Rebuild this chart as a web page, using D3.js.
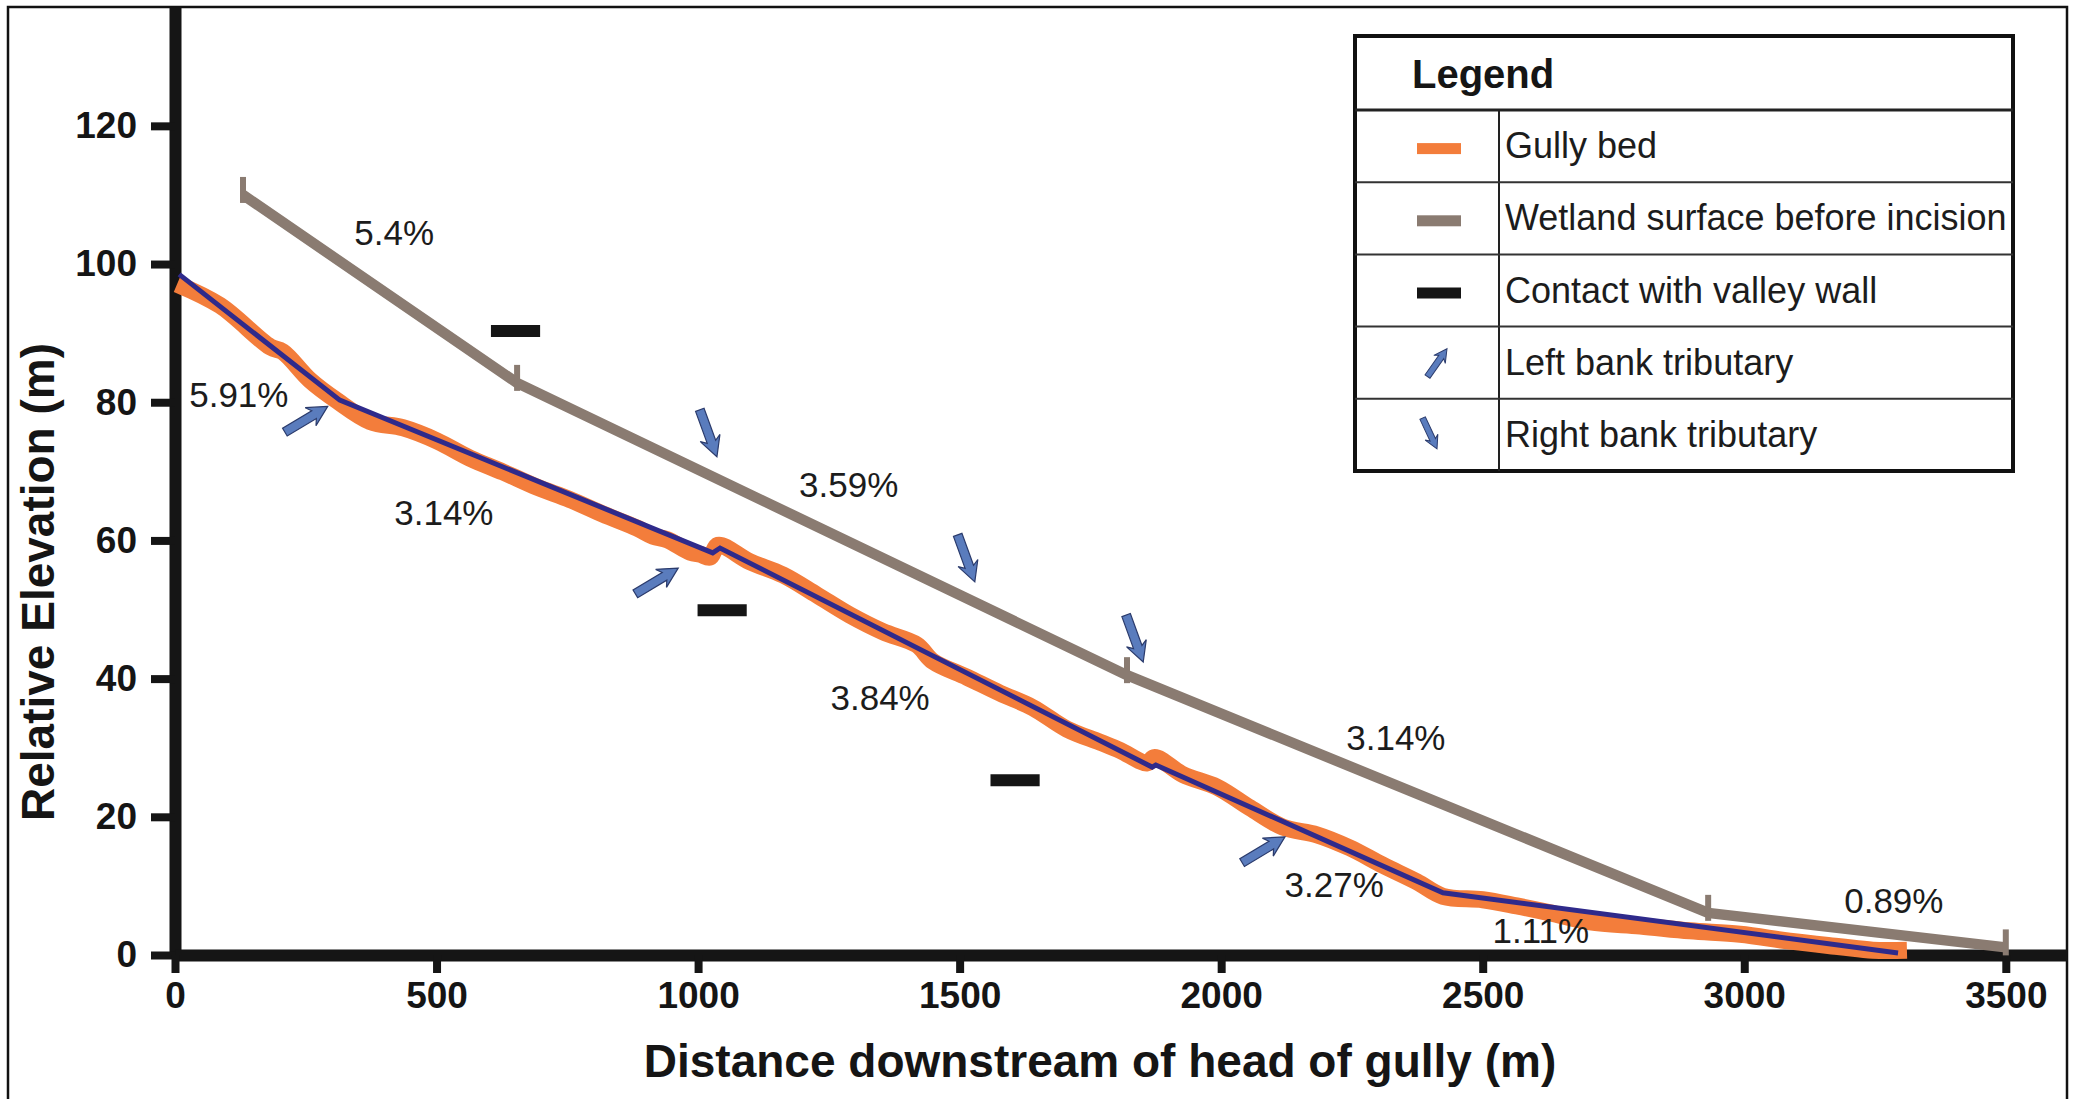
<!DOCTYPE html>
<html>
<head>
<meta charset="utf-8">
<script src="https://cdn.jsdelivr.net/npm/d3@7"></script>
<style>
html, body { margin: 0; padding: 0; background: #fff; }
svg { display: block; }
text { font-family: "Liberation Sans", Arial, Helvetica, sans-serif; }
</style>
</head>
<body>
<svg id="chart" width="2076" height="1099"></svg>
<script>
// ---------------- data ----------------
const bedDistance = [4, 86, 182, 206, 258, 310, 373, 436, 501, 564, 627, 692, 755, 818, 883, 914, 941, 985, 1004, 1023, 1038, 1099, 1162, 1227, 1290, 1353, 1418, 1449, 1514, 1577, 1640, 1705, 1768, 1807, 1858, 1873, 1927, 1992, 2055, 2118, 2183, 2246, 2309, 2374, 2424, 2500, 2565, 2629, 2705, 2801, 2896, 2992, 3087, 3183, 3246, 3311];
const bedElevation = [97.1, 94.0, 88.0, 87.3, 83.2, 80.2, 77.2, 76.3, 74.4, 71.9, 69.9, 67.7, 65.9, 63.8, 61.8, 60.6, 60.1, 58.3, 58.0, 57.6, 59.3, 56.9, 55.0, 52.1, 49.2, 46.8, 44.9, 42.5, 40.2, 37.9, 35.8, 32.7, 30.8, 29.6, 27.8, 28.6, 26.1, 24.3, 21.3, 18.5, 17.4, 15.5, 13.0, 10.6, 8.5, 8.0, 7.1, 6.1, 4.8, 4.2, 3.5, 3.0, 2.0, 1.2, 0.7, 0.7];
// Fitted gully-bed segments (dark blue line)
const fitDistance = [8, 315, 1028, 1042, 1868, 1875, 2424, 3294];
const fitElevation = [98.5, 80.3, 58.2, 58.9, 27.2, 27.5, 9.0, 0.3];
// Wetland surface before incision
const wetlandDistance = [130, 654, 1820, 2931, 3500];
const wetlandElevation = [110.0, 82.8, 40.5, 6.1, 1.1];
// Contact with valley wall
const contactStart = [604, 999, 1559];
const contactEnd = [698, 1093, 1653];
const contactElevation = [90.3, 49.9, 25.3];
// Tributaries (arrow tips)
const leftTribDistance = [292, 962, 2122];
const leftTribElevation = [79.4, 56.0, 17.1];
const rightTribDistance = [1036, 1529, 1851];
const rightTribElevation = [72.1, 54.0, 42.4];
// Slope annotations
const slopeLabels = ["5.4%", "5.91%", "3.14%", "3.59%", "3.84%", "3.14%", "3.27%", "1.11%", "0.89%"];
const slopeLabelDistance = [419, 122, 514, 1288, 1348, 2334, 2216, 2611, 3286];
const slopeLabelElevation = [102.8, 79.3, 62.2, 66.3, 35.5, 29.7, 8.4, 1.7, 6.1];
// Axes
const xTicks = [0, 500, 1000, 1500, 2000, 2500, 3000, 3500];
const yTicks = [0, 20, 40, 60, 80, 100, 120];
const xTitle = "Distance downstream of head of gully (m)";
const yTitle = "Relative Elevation (m)";
// Legend
const legendTitle = "Legend";
const legendLabels = ["Gully bed", "Wetland surface before incision", "Contact with valley wall", "Left bank tributary", "Right bank tributary"];
const legendKinds = ["bed", "wetland", "contact", "left", "right"];

// ---------------- styles ----------------
const C = {
  orange: "#f37d3b",
  blue: "#2f2a8b",
  gray: "#8a7b71",
  black: "#151515",
  arrowFill: "#5a7cbd",
  arrowStroke: "#2b3b6c",
  text: "#1c1c1c"
};

const svg = d3.select("#chart");

const x = d3.scaleLinear().domain([0, 3617]).range([175, 2067]);
const y = d3.scaleLinear().domain([0, 137.2]).range([955, 7]);

// outer frame
svg.append("rect").attr("x", 8).attr("y", 7).attr("width", 2059).attr("height", 1100)
  .attr("fill", "none").attr("stroke", "#111").attr("stroke-width", 2.5);

// ---------------- axes ----------------
const yAxis = d3.axisLeft(y).tickValues(yTicks).tickFormat(d3.format("d"))
  .tickSize(24).tickSizeOuter(0).tickPadding(14);
const xAxis = d3.axisBottom(x).tickValues(xTicks).tickFormat(d3.format("d"))
  .tickSize(18).tickSizeOuter(0).tickPadding(9);

const gy = svg.append("g").attr("transform", `translate(${x(0)},0)`).call(yAxis);
const gx = svg.append("g").attr("transform", `translate(0,${y(0)})`).call(xAxis);

[gx, gy].forEach(g => {
  g.select(".domain").attr("stroke", C.black).attr("stroke-width", 12);
  g.selectAll(".tick line").attr("stroke", C.black).attr("stroke-width", 8);
  g.selectAll(".tick text").attr("fill", C.black)
    .style("font-family", '"Liberation Sans", Arial, sans-serif')
    .style("font-weight", "bold").style("font-size", "37px");
});

// axis titles
svg.append("text").attr("x", 1100).attr("y", 1077).attr("text-anchor", "middle")
  .style("font-weight", "bold").style("font-size", "46px").attr("fill", C.black).text(xTitle);
svg.append("text").attr("transform", "translate(54,582) rotate(-90)").attr("text-anchor", "middle")
  .style("font-weight", "bold").style("font-size", "46px").attr("fill", C.black).text(yTitle);

// ---------------- gully bed ----------------
const bed = bedDistance.map((d, i) => [d, bedElevation[i]]);
const fit = fitDistance.map((d, i) => [d, fitElevation[i]]);
const wet = wetlandDistance.map((d, i) => [d, wetlandElevation[i]]);
const line = d3.line().x(d => x(d[0])).y(d => y(d[1]));
const smooth = d3.line().x(d => x(d[0])).y(d => y(d[1])).curve(d3.curveCatmullRom.alpha(0.5));

svg.append("path").attr("d", smooth(bed)).attr("fill", "none")
  .attr("stroke", C.orange).attr("stroke-width", 17).attr("stroke-linejoin", "round");

svg.append("path").attr("d", line(fit)).attr("fill", "none")
  .attr("stroke", C.blue).attr("stroke-width", 5).attr("stroke-linejoin", "miter");

// ---------------- wetland surface ----------------
svg.append("path").attr("d", line(wet)).attr("fill", "none")
  .attr("stroke", C.gray).attr("stroke-width", 10.5).attr("stroke-linejoin", "miter");
svg.selectAll(".wtick").data(wet).enter().append("line")
  .attr("x1", d => x(d[0])).attr("x2", d => x(d[0]))
  .attr("y1", d => y(d[1]) - 18).attr("y2", d => y(d[1]) + 8)
  .attr("stroke", C.gray).attr("stroke-width", 6);

// ---------------- contact with valley wall ----------------
svg.selectAll(".contact").data(contactStart).enter().append("line")
  .attr("x1", (d) => x(d)).attr("x2", (d, i) => x(contactEnd[i]))
  .attr("y1", (d, i) => y(contactElevation[i])).attr("y2", (d, i) => y(contactElevation[i]))
  .attr("stroke", C.black).attr("stroke-width", 12);

// ---------------- tributary arrows ----------------
const arrowPath = "M0,0 L-20,-10.5 L-16,-4.5 L-50,-4.5 L-50,4.5 L-16,4.5 L-20,10.5 Z";
function arrows(ds, es, angle) {
  svg.append("g").selectAll("path").data(ds).enter().append("path")
    .attr("d", arrowPath)
    .attr("transform", (d, i) => `translate(${x(d)},${y(es[i])}) rotate(${angle})`)
    .attr("fill", C.arrowFill).attr("stroke", C.arrowStroke).attr("stroke-width", 1.2);
}
arrows(leftTribDistance, leftTribElevation, -31);
arrows(rightTribDistance, rightTribElevation, 70);

// ---------------- slope labels ----------------
svg.selectAll(".slope").data(slopeLabels).enter().append("text")
  .attr("x", (d, i) => x(slopeLabelDistance[i]))
  .attr("y", (d, i) => y(slopeLabelElevation[i]))
  .attr("text-anchor", "middle").style("font-size", "35px").attr("fill", C.text)
  .text(d => d);

// ---------------- legend ----------------
const L = { x0: 1355, x1: 2013, y0: 36, head: 74, row: 72.2, div: 1499, sym: 1439 };
const lg = svg.append("g");
const yEnd = L.y0 + L.head + L.row * legendLabels.length;
lg.append("rect").attr("x", L.x0).attr("y", L.y0).attr("width", L.x1 - L.x0).attr("height", yEnd - L.y0)
  .attr("fill", "#fff").attr("stroke", "#111").attr("stroke-width", 4);
lg.append("line").attr("x1", L.x0).attr("x2", L.x1).attr("y1", L.y0 + L.head).attr("y2", L.y0 + L.head)
  .attr("stroke", "#222").attr("stroke-width", 3);
lg.append("line").attr("x1", L.div).attr("x2", L.div).attr("y1", L.y0 + L.head).attr("y2", yEnd)
  .attr("stroke", "#222").attr("stroke-width", 2);
lg.append("text").attr("x", 1412).attr("y", L.y0 + 52).style("font-weight", "bold")
  .style("font-size", "40px").attr("fill", C.black).text(legendTitle);

legendLabels.forEach((lab, i) => {
  const top = L.y0 + L.head + L.row * i;
  const cy = top + L.row / 2;
  if (i > 0) lg.append("line").attr("x1", L.x0).attr("x2", L.x1).attr("y1", top).attr("y2", top)
    .attr("stroke", "#333").attr("stroke-width", 2);
  lg.append("text").attr("x", 1505).attr("y", cy + 12).style("font-size", "36px")
    .attr("fill", C.text).text(lab);
  const k = legendKinds[i];
  if (k === "bed" || k === "wetland" || k === "contact") {
    const col = k === "bed" ? C.orange : (k === "wetland" ? C.gray : C.black);
    lg.append("rect").attr("x", L.sym - 22).attr("y", cy - 3).attr("width", 44).attr("height", 11).attr("fill", col);
  } else {
    const ang = k === "left" ? -55 : 65;
    lg.append("path").attr("d", "M0,0 L-13,-7 L-10,-3 L-34,-3 L-34,3 L-10,3 L-13,7 Z")
      .attr("transform", k === "left" ? `translate(${L.sym + 8},${cy - 14}) rotate(${ang})`
                                      : `translate(${L.sym - 2},${cy + 14}) rotate(${ang})`)
      .attr("fill", C.arrowFill).attr("stroke", C.arrowStroke).attr("stroke-width", 1);
  }
});
</script>
</body>
</html>
